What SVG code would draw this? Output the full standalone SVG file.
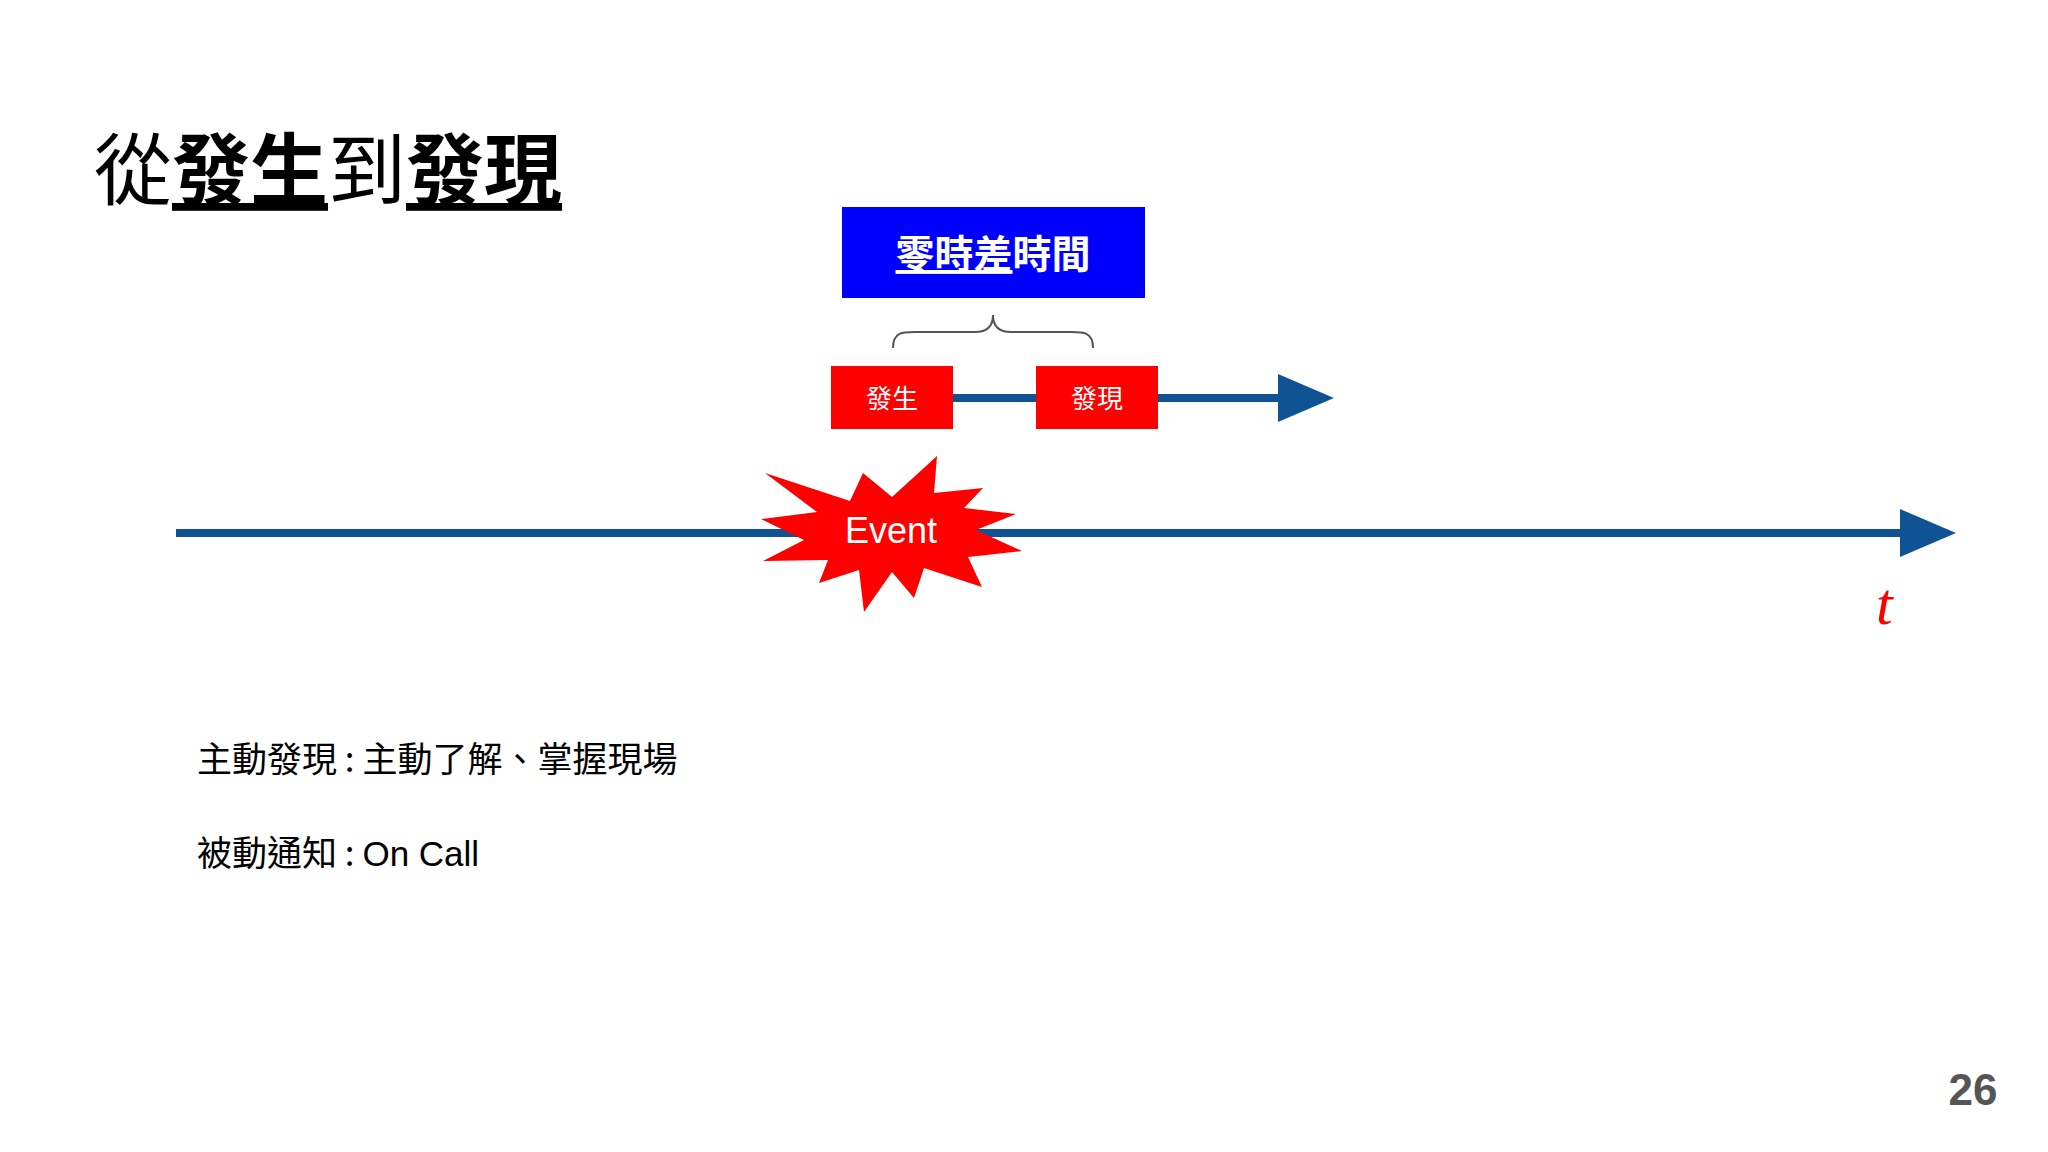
<svg xmlns="http://www.w3.org/2000/svg" width="2048" height="1152" viewBox="0 0 2048 1152">
<style>
.cjk{font-family:"Noto Sans CJK TC","Noto Sans CJK SC",sans-serif}
.line{stroke:#0f5394;stroke-width:8;fill:none}
.red{fill:#ff0000}
.wt{fill:#fff;text-anchor:middle}
</style>
<defs>
<marker id="ah" markerWidth="7" markerHeight="6" refX="0" refY="3" orient="auto" markerUnits="strokeWidth">
<path d="M0,0 L7,3 L0,6 Z" fill="#0f5394"/>
</marker>
</defs>
<rect width="2048" height="1152" fill="#fff"/>
<text x="94" y="199" class="cjk" font-size="78" fill="#000">從<tspan font-weight="bold" text-decoration="underline">發生</tspan>到<tspan font-weight="bold" text-decoration="underline">發現</tspan></text>
<g id="connectors">
<line class="line" x1="176" y1="533" x2="1900" y2="533" marker-end="url(#ah)"/>
<line class="line" x1="953" y1="398" x2="1278" y2="398" marker-end="url(#ah)"/>
<path d="M893,348 C893,330 905,332 920,332 L975,332 C988,332 993,325 993,315 C993,325 998,332 1011,332 L1066,332 C1081,332 1093,330 1093,348" fill="none" stroke="#555" stroke-width="2"/>
</g>
<g id="zero-lag">
<rect x="842" y="207" width="303" height="91" fill="#0000ff"/>
<text x="993" y="268" class="cjk wt" font-size="39" font-weight="bold"><tspan text-decoration="underline">零時差</tspan>時間</text>
</g>
<g id="occur">
<rect x="831" y="366" width="122" height="63" class="red"/>
<text x="892" y="408" class="cjk wt" font-size="26">發生</text>
</g>
<g id="discover">
<rect x="1036" y="366" width="122" height="63" class="red"/>
<text x="1097" y="408" class="cjk wt" font-size="26">發現</text>
</g>
<g id="event">
<polygon class="red" points="765,473 850,501 863,473 892,497 937,456 934,493 983,488 964,508 1016,514 976,530 1022,551 968,557 982,587 924,568 914,598 892,572 864,612 859,570 819,583 828,560 763,561 804,540 761,519 817,512"/>
<text x="891" y="543" class="wt" font-family="Liberation Sans, sans-serif" font-size="36">Event</text>
</g>
<text x="1876" y="624" font-family="Liberation Serif, serif" font-style="italic" font-size="60" fill="#ff0000">t</text>
<text x="197" y="772" class="cjk" font-size="35" fill="#000">主動發現 : 主動了解、掌握現場</text>
<text x="197" y="866" class="cjk" font-size="35" fill="#000">被動通知 : <tspan font-family="Liberation Sans, sans-serif">On Call</tspan></text>
<text x="1973" y="1105" font-family="Liberation Sans, sans-serif" font-weight="bold" font-size="44" fill="#555" text-anchor="middle">26</text>
</svg>
